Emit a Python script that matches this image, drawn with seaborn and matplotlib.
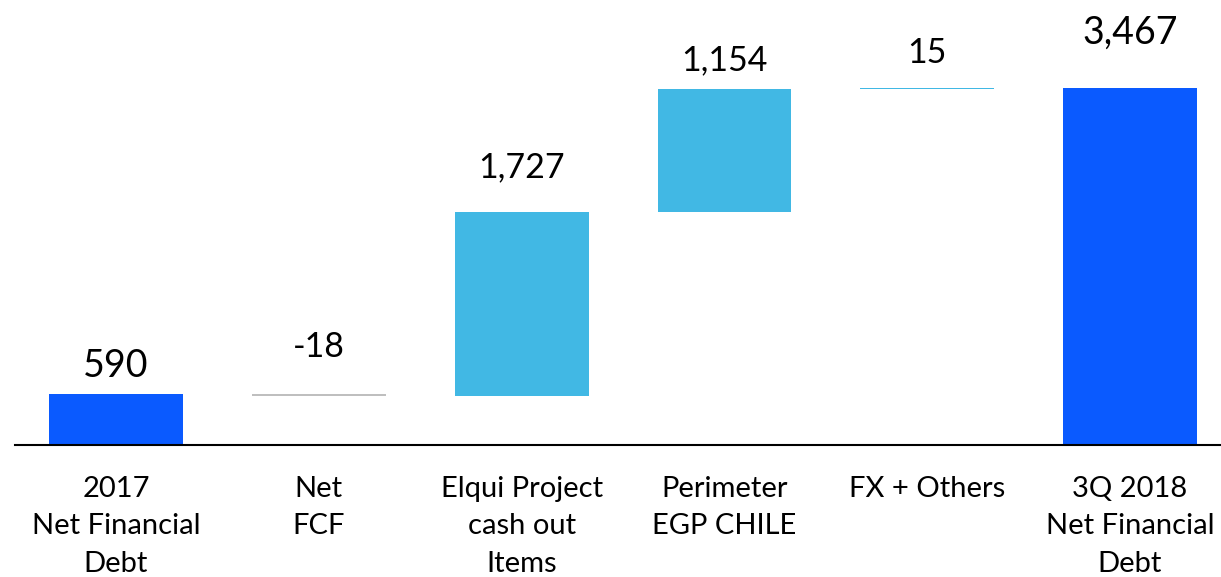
import numpy as np
import pandas as pd
import matplotlib
matplotlib.use("Agg")
import matplotlib.pyplot as plt
import seaborn as sns

# ---- data ----
categories = ["2017\nNet Financial\nDebt", "Net\nFCF", "Elqui Project\ncash out\nItems",
              "Perimeter\nEGP CHILE", "FX + Others", "3Q 2018\nNet Financial\nDebt"]
values = [590, -18, 1727, 1154, 15, 3467]
is_total = [True, False, False, False, False, True]
value_labels = ["590", "-18", "1,727", "1,154", "15", "3,467"]

DARK = "#0A5AFF"
LIGHT = "#41B8E4"
GREY = "#BFBFBF"

# waterfall geometry from the values
bottoms, heights, colors = [], [], []
running = 0
for v, tot in zip(values, is_total):
    if tot:
        bottoms.append(0)
        heights.append(v)
        colors.append(DARK)
        running = v
    else:
        new = running + v
        bottoms.append(min(running, new))
        heights.append(abs(v))
        colors.append(LIGHT if v > 0 else GREY)
        running = new

df = pd.DataFrame({"cat": categories, "height": heights, "bottom": bottoms})

sns.set_style("white")
plt.rcParams["font.family"] = ["Lato", "DejaVu Sans"]

fig = plt.figure(figsize=(12.21, 5.77), dpi=100)
ax = fig.add_axes([0.01196, 0.2288, 0.9966, 0.7712])

sns.barplot(data=df, x="cat", y="height", bottom=df["bottom"].values,
            color=LIGHT, width=0.66, ax=ax, linewidth=0, saturation=1)
for patch, c in zip(ax.patches, colors):
    patch.set_facecolor(c)
    patch.set_edgecolor("none")

ax.set_xlim(-0.5, 5.5)
ax.set_ylim(112, 4294)

# value labels (offsets in points above each bar top)
pads = [12, 27, 25, 14, 18, 32]
sizes = [27, 24.5, 24.5, 24.5, 24.5, 27]
for i, (b, h) in enumerate(zip(bottoms, heights)):
    top = b + h
    ax.annotate(value_labels[i], xy=(i, top), xytext=(0, pads[i]),
                textcoords="offset points", ha="center", va="baseline",
                fontsize=sizes[i], color="black")

ax.set_xlabel("")
ax.set_ylabel("")
ax.set_yticks([])
ax.tick_params(axis="x", length=0, pad=22, labelsize=21, labelcolor="black")
for lab in ax.get_xticklabels():
    lab.set_linespacing(1.55)
for s in ["top", "right", "left"]:
    ax.spines[s].set_visible(False)
ax.spines["bottom"].set_color("black")
ax.spines["bottom"].set_linewidth(1.5)

fig.savefig("out.png", dpi=100)
